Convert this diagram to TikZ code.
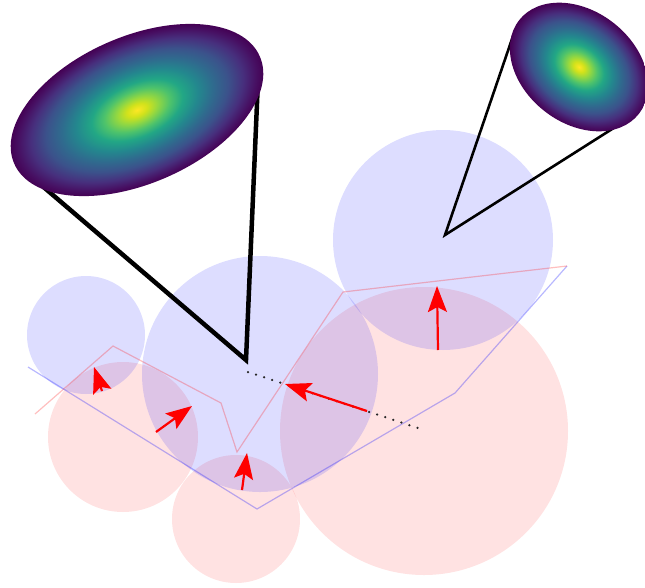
\documentclass[tikz,border=0pt]{standalone}
\usetikzlibrary{arrows.meta}
\definecolor{vA}{HTML}{FDE725}
\definecolor{vB}{HTML}{D2E21B}
\definecolor{vC}{HTML}{95D840}
\definecolor{vD}{HTML}{4EC36B}
\definecolor{vE}{HTML}{22A785}
\definecolor{vF}{HTML}{23888E}
\definecolor{vG}{HTML}{2F6B8E}
\definecolor{vH}{HTML}{3B528B}
\definecolor{vI}{HTML}{472F7D}
\definecolor{vJ}{HTML}{471063}
\definecolor{vK}{HTML}{440154}
\pgfdeclareradialshading{viridisr}{\pgfpoint{0bp}{0bp}}{%
color(0bp)=(vA); color(2bp)=(vB); color(4bp)=(vC); color(6.5bp)=(vD);
color(9bp)=(vE); color(12bp)=(vF); color(15bp)=(vG); color(18bp)=(vH);
color(21bp)=(vI); color(23.5bp)=(vJ); color(25bp)=(vK); color(50bp)=(vK)}
\begin{document}
\begin{tikzpicture}[x=1pt,y=-1pt,
  bluec/.style={fill=blue,fill opacity=0.135,draw=none},
  redc/.style={fill=red,fill opacity=0.115,draw=none},
  bluepath/.style={draw=blue,draw opacity=0.28,line width=1.2pt},
  redpath/.style={draw=red,draw opacity=0.25,line width=1.2pt},
  pen/.style={red,line width=2.2pt,-{Stealth[length=26pt,width=19pt,inset=5pt]}},
  dots/.style={black!85,line width=2.5pt,dash pattern=on 0pt off 8.5pt,line cap=round},
  conebig/.style={black,line width=4.5pt,line join=miter},
  conesmall/.style={black,line width=2.6pt,line join=miter}]
\useasboundingbox (0,0) rectangle (645,587);
% named points
\coordinate (p1) at (28,367);  \coordinate (p2) at (257,509);
\coordinate (p3) at (455,393); \coordinate (p4) at (567,266);
\coordinate (q1) at (35,414);  \coordinate (q2) at (113,346);
\coordinate (q3) at (221,403); \coordinate (q4) at (237,452);
\coordinate (q5) at (343,292);
\coordinate (d1) at (248,372); \coordinate (d2) at (424,430);
\coordinate (a1s) at (102,391); \coordinate (a1e) at (94,367);
\coordinate (a2s) at (156,432); \coordinate (a2e) at (192,406);
\coordinate (a3s) at (242,490); \coordinate (a3e) at (247,453);
\coordinate (a4s) at (438,350); \coordinate (a4e) at (437,286);
\coordinate (a5s) at (367,411); \coordinate (a5e) at (285,384);
\coordinate (k1) at (246,360); \coordinate (k1a) at (40,184); \coordinate (k1b) at (258,80);
\coordinate (k2) at (445,235); \coordinate (k2a) at (513,36); \coordinate (k2b) at (620,124);
% red circles
\fill[redc] (123,437) circle (75);
\fill[redc] (236,519) circle (64);
\fill[redc] (424,431) circle (144);
% blue circles
\fill[bluec] (86,335) circle (59);
\fill[bluec] (260,374) circle (118);
\fill[bluec] (443,240) circle (110);
% polylines
\draw[bluepath] (p1) -- (p2) -- (p3) -- (p4);
\draw[redpath] (q1) -- (q2) -- (q3) -- (q4) -- (q5) -- (p4);
% dotted line
\draw[dots] (d1) -- (d2);
% arrows
\draw[pen] (a1s) -- (a1e);
\draw[pen] (a2s) -- (a2e);
\draw[pen] (a3s) -- (a3e);
\draw[pen] (a4s) -- (a4e);
\draw[pen] (a5s) -- (a5e);
% cones
\draw[conebig] (k1a) -- (k1) -- (k1b);
\draw[conesmall] (k2a) -- (k2) -- (k2b);
% ellipses
\begin{scope}[transform canvas={shift={(137,110)},rotate=23.6}]
\shade[shading=viridisr] (0,0) ellipse [x radius=134, y radius=73.5];
\end{scope}
\begin{scope}[transform canvas={shift={(579,67)},rotate=-38}]
\shade[shading=viridisr] (0,0) ellipse [x radius=76, y radius=56];
\end{scope}
\end{tikzpicture}
\end{document}
